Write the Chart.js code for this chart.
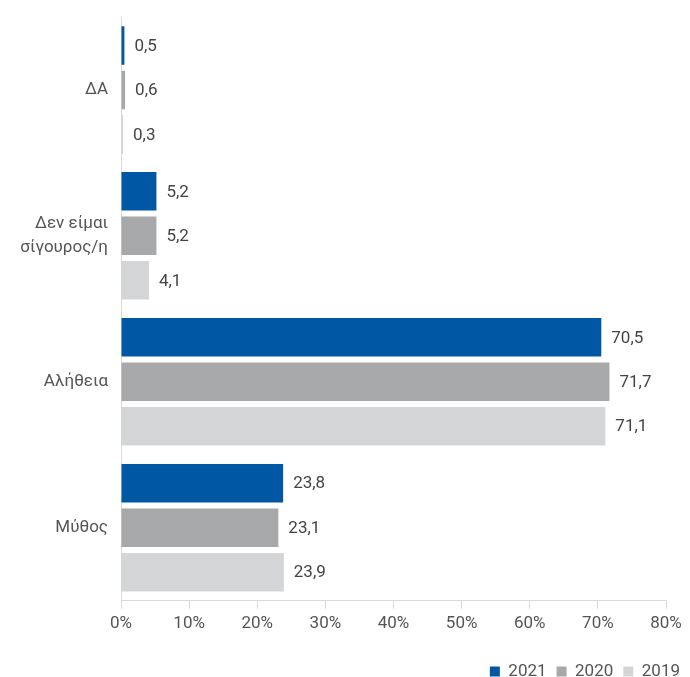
<!DOCTYPE html>
<html>
<head>
<meta charset="utf-8">
<script src="https://cdn.jsdelivr.net/npm/chart.js@4.4.1/dist/chart.umd.min.js"></script>
<style>
  html, body { margin: 0; padding: 0; background: #fff; }
  #wrap { width: 690px; height: 677px; }
</style>
</head>
<body>
<div id="wrap"><canvas id="barChart"></canvas></div>
<script>
const categories = ["ΔΑ", ["Δεν είμαι", "σίγουρος/η"], "Αλήθεια", "Μύθος"];
const values2021 = [0.5, 5.2, 70.5, 23.8];
const values2020 = [0.6, 5.2, 71.7, 23.1];
const values2019 = [0.3, 4.1, 71.1, 23.9];
const xTicks = [0, 10, 20, 30, 40, 50, 60, 70, 80];

const textColor = "#555555";
const fontFamily = "Roboto, 'Noto Sans', sans-serif";

// valeurs au bout des barres
const valueLabels = {
  id: "valueLabels",
  afterDatasetsDraw(chart) {
    const ctx = chart.ctx;
    ctx.save();
    ctx.font = "17px " + fontFamily;
    ctx.fillStyle = "#444444";
    ctx.textAlign = "left";
    ctx.textBaseline = "middle";
    chart.data.datasets.forEach((ds, i) => {
      const meta = chart.getDatasetMeta(i);
      meta.data.forEach((bar, j) => {
        const txt = ds.data[j].toFixed(1).replace(".", ",");
        ctx.fillText(txt, bar.x + 10, bar.y + 1);
      });
    });
    ctx.restore();
  }
};

const ctx = document.getElementById("barChart").getContext("2d");

new Chart(ctx, {
  type: "bar",
  data: {
    labels: categories,
    datasets: [
      { label: "2021", data: values2021, backgroundColor: "#0057a3" },
      { label: "2020", data: values2020, backgroundColor: "#a7a8aa" },
      { label: "2019", data: values2019, backgroundColor: "#d4d5d7" }
    ]
  },
  options: {
    indexAxis: "y",
    responsive: true,
    maintainAspectRatio: false,
    animation: false,
    categoryPercentage: 0.915,
    barPercentage: 0.865,
    layout: { padding: { top: 17, right: 0, bottom: -13, left: 0 } },
    scales: {
      x: {
        min: 0,
        max: 80,
        afterBuildTicks(axis) {
          axis.ticks = xTicks.map(v => ({ value: v }));
        },
        afterFit(axis) {
          axis.height += 14;
          axis.paddingRight = 24;
        },
        grid: {
          drawOnChartArea: false,
          drawTicks: true,
          tickLength: 8,
          color: "#d9d9d9"
        },
        border: { color: "#d9d9d9" },
        ticks: {
          color: textColor,
          font: { family: fontFamily, size: 17 },
          padding: 5,
          maxRotation: 0,
          callback: v => v + "%"
        }
      },
      y: {
        afterFit(axis) { axis.width = 121; },
        grid: {
          drawOnChartArea: false,
          drawTicks: true,
          tickLength: 13,
          tickColor: "rgba(0,0,0,0)"
        },
        border: { color: "#d9d9d9" },
        ticks: {
          color: textColor,
          font: { family: fontFamily, size: 17, lineHeight: 1.4 },
          padding: 0
        }
      }
    },
    plugins: {
      legend: {
        position: "bottom",
        align: "end",
        labels: {
          boxWidth: 10,
          boxHeight: 10,
          padding: 10,
          color: textColor,
          font: { family: fontFamily, size: 17 }
        }
      },
      tooltip: { enabled: false }
    }
  },
  plugins: [valueLabels]
});
</script>
</body>
</html>
